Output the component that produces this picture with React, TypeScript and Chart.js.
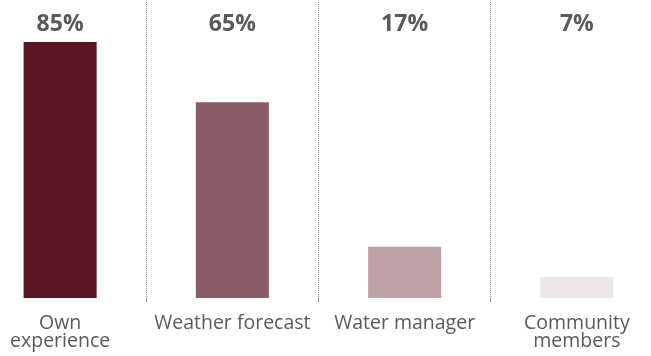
import React, { useEffect, useRef } from "react";
import { Chart, registerables } from "chart.js";

Chart.register(...registerables);

const categories: (string | string[])[] = [["Own", "experience"], "Weather forecast", "Water manager", ["Community", "members"]];
const values: number[] = [85, 65, 17, 7];
const valueLabels: string[] = ["85%", "65%", "17%", "7%"];
const barColors: string[] = ["#5A1622", "#8B5C65", "#BEA0A5", "#EDE5E6"];

const FONT = "'Open Sans', 'Noto Sans', sans-serif";

const topLabels = {
  id: "topLabels",
  afterDatasetsDraw(chart: any) {
    const { ctx, chartArea } = chart;
    const meta = chart.getDatasetMeta(0);
    ctx.save();
    ctx.font = `bold 23px ${FONT}`;
    ctx.fillStyle = "#595959";
    ctx.textAlign = "center";
    ctx.textBaseline = "middle";
    meta.data.forEach((bar: any, i: number) => {
      ctx.fillText(valueLabels[i], bar.x, chartArea.top + 22);
    });
    ctx.restore();
  },
};

export default function App() {
  const ref = useRef<HTMLCanvasElement>(null);
  useEffect(() => {
    if (!ref.current) return;
    const chart = new Chart(ref.current, {
      type: "bar",
      data: {
        labels: categories,
        datasets: [
          {
            data: values,
            backgroundColor: barColors,
            barPercentage: 0.424,
            categoryPercentage: 1,
          },
        ],
      },
      options: {
        animation: false,
        responsive: false,
        maintainAspectRatio: false,
        layout: { padding: { top: 2, bottom: 0, left: 0, right: 0 } },
        plugins: { legend: { display: false }, tooltip: { enabled: false } },
        scales: {
          x: {
            offset: true,
            border: { display: false, dash: [1, 1] },
            grid: {
              offset: true,
              display: true,
              color: "#8c8c8c",
              lineWidth: 1,
              tickLength: 4,
              drawTicks: true,
            },
            ticks: {
              color: "#595959",
              padding: 12,
              maxRotation: 0,
              autoSkip: false,
              font: { family: FONT, size: 19.5, lineHeight: 0.95 },
            },
          },
          y: {
            display: false,
            min: 0,
            max: 98.3,
          },
        },
      },
      plugins: [topLabels],
    });
    return () => chart.destroy();
  }, []);
  return (
    <div style={{ position: "fixed", left: 0, top: 0, width: 651, height: 356, overflow: "hidden", background: "#fff" }}>
      <div style={{ position: "absolute", left: -25.6, top: 0, width: 689, height: 363 }}>
        <canvas ref={ref} width={689} height={363} style={{ display: "block" }} />
      </div>
    </div>
  );
}
